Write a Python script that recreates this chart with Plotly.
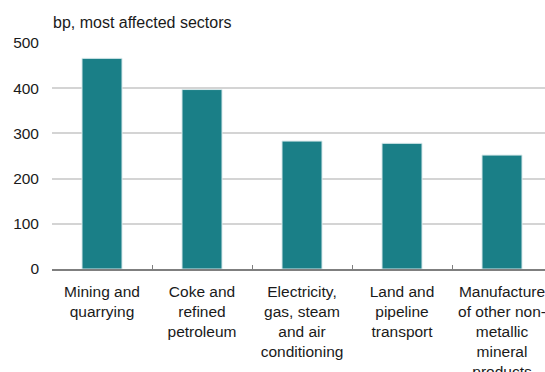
import plotly.graph_objects as go

categories = [
    "Mining and<br>quarrying",
    "Coke and<br>refined<br>petroleum",
    "Electricity,<br>gas, steam<br>and air<br>conditioning",
    "Land and<br>pipeline<br>transport",
    "Manufacture<br>of other non-<br>metallic<br>mineral<br>products",
]
values = [466, 397, 283, 278, 252]
y_ticks = [0, 100, 200, 300, 400, 500]
title_text = "bp, most affected sectors"

FONT = "Liberation Sans, Arial, sans-serif"
TXT = "#1a1a1a"

fig = go.Figure(
    go.Bar(
        x=categories,
        y=values,
        width=0.4,
        marker=dict(color="#1a7f87", line=dict(color="#d6e8ea", width=1)),
    )
)

fig.update_layout(
    width=545,
    height=372,
    margin=dict(l=52, r=0, t=43, b=103, autoexpand=False),
    paper_bgcolor="white",
    plot_bgcolor="white",
    showlegend=False,
    font=dict(family=FONT, color=TXT, size=16),
    bargap=0.6,
)

fig.update_xaxes(
    type="category",
    range=[-0.5, 4.43],
    automargin=False,
    showgrid=False,
    showline=True,
    linecolor="#7f7f7f",
    linewidth=2,
    ticks="inside",
    tickson="boundaries",
    ticklen=4,
    tickcolor="#7f7f7f",
    tickwidth=1,
    tickfont=dict(size=15.5, color=TXT),
    ticklabeloverflow="allow",
    ticklabelstandoff=7,
    tickangle=0,
    zeroline=False,
)

fig.update_yaxes(
    range=[0, 500],
    tickvals=y_ticks,
    automargin=False,
    showgrid=True,
    gridcolor="#d4d4d4",
    gridwidth=1.5,
    zeroline=False,
    showline=False,
    ticks="",
    tickfont=dict(size=15.5, color=TXT),
    ticklabelstandoff=12,
)

fig.add_annotation(
    text=title_text,
    xref="paper", yref="paper",
    x=0, y=1,
    xanchor="left", yanchor="bottom",
    showarrow=False,
    yshift=10,
    xshift=-1,
    font=dict(size=16, color=TXT, family=FONT),
)

fig.write_html("out.html")
